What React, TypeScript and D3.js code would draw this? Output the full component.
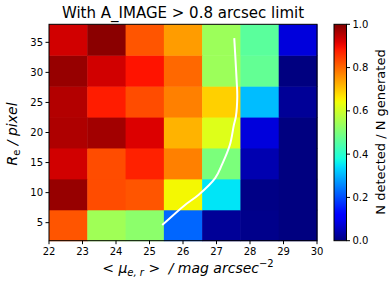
import * as d3 from "d3"

// bin edges of the 2D histogram
const xEdges = [22, 23.143, 24.286, 25.429, 26.571, 27.714, 28.857, 30]
const yEdges = [2, 7.143, 12.286, 17.429, 22.571, 27.714, 32.857, 38]

// detection fraction, rows from bottom (small Re) to top
const fraction = [
  [0.82, 0.545, 0.52, 0.225, 0.02, 0.01, 0.0],
  [0.98, 0.83, 0.82, 0.647, 0.35, 0.006, 0.0],
  [0.93, 0.83, 0.875, 0.775, 0.5, 0.042, 0.0],
  [0.96, 0.97, 0.92, 0.72, 0.62, 0.08, 0.0],
  [0.956, 0.88, 0.83, 0.775, 0.69, 0.31, 0.02],
  [0.98, 0.93, 0.89, 0.8, 0.54, 0.47, 0.0],
  [0.93, 0.99, 0.82, 0.745, 0.54, 0.46, 0.08],
]

// 50% completeness curve
const curveX = [25.38, 26.06, 26.46, 26.96, 27.16, 27.4, 27.52, 27.58, 27.62, 27.6, 27.53]
const curveY = [4.6, 7.95, 9.6, 12.4, 14.6, 17.95, 21.3, 22.7, 26.0, 28.8, 35.7]

const xTicks = [22, 23, 24, 25, 26, 27, 28, 29, 30]
const yTicks = [5, 10, 15, 20, 25, 30, 35]
const cbTicks = [0, 0.2, 0.4, 0.6, 0.8, 1.0]

// matplotlib jet segment data
const jetR: [number, number][] = [[0, 0], [0.35, 0], [0.66, 1], [0.89, 1], [1, 0.5]]
const jetG: [number, number][] = [[0, 0], [0.125, 0], [0.375, 1], [0.64, 1], [0.91, 0], [1, 0]]
const jetB: [number, number][] = [[0, 0.5], [0.11, 1], [0.34, 1], [0.65, 0], [1, 0]]

function seg(s: [number, number][], v: number) {
  for (let i = 1; i < s.length; i++) {
    if (v <= s[i][0]) {
      const t = (v - s[i - 1][0]) / (s[i][0] - s[i - 1][0])
      return s[i - 1][1] + t * (s[i][1] - s[i - 1][1])
    }
  }
  return s[s.length - 1][1]
}

function jet(v: number) {
  const c = Math.max(0, Math.min(1, v))
  return d3.rgb(seg(jetR, c) * 255, seg(jetG, c) * 255, seg(jetB, c) * 255).formatHex()
}

const W = 392
const H = 291
const font = "DejaVu Sans, sans-serif"

export default function App() {
  const x = d3.scaleLinear().domain([22, 30]).range([49, 317])
  const y = d3.scaleLinear().domain([2, 38]).range([240.7, 24.3])
  const cb = d3.scaleLinear().domain([0, 1]).range([240.7, 24.3])

  const line = d3.line<number>()
    .x(i => x(curveX[i]))
    .y(i => y(curveY[i]))
    .curve(d3.curveCatmullRom)

  const stops = d3.range(0, 1.0001, 0.02)

  return (
    <svg width={W} height={H} style={{ position: "absolute", left: 0, top: 0, background: "#fff" }}>
      <defs>
        <linearGradient id="jetgrad" x1="0" y1="1" x2="0" y2="0">
          {stops.map(s => (
            <stop key={s} offset={s} stopColor={jet(s)} />
          ))}
        </linearGradient>
      </defs>

      {fraction.map((row, j) =>
        row.map((v, i) => (
          <rect
            key={`${i}-${j}`}
            x={x(xEdges[i])}
            y={y(yEdges[j + 1])}
            width={x(xEdges[i + 1]) - x(xEdges[i]) + 0.5}
            height={y(yEdges[j]) - y(yEdges[j + 1]) + 0.5}
            fill={jet(v)}
          />
        ))
      )}

      <path d={line(d3.range(curveX.length)) ?? ""} fill="none" stroke="#fff" strokeWidth={2} />

      <rect x={49} y={24.3} width={268} height={216.4} fill="none" stroke="#000" strokeWidth={1} />

      {xTicks.map(t => (
        <g key={t} transform={`translate(${x(t)},240.7)`}>
          <line y2={3.5} stroke="#000" />
          <text y={14} textAnchor="middle" fontSize={10} fontFamily={font} fill="#000">{t}</text>
        </g>
      ))}
      {yTicks.map(t => (
        <g key={t} transform={`translate(49,${y(t)})`}>
          <line x2={-3.5} stroke="#000" />
          <text x={-6} dy="0.35em" textAnchor="end" fontSize={10} fontFamily={font} fill="#000">{t}</text>
        </g>
      ))}

      <text x={183} y={18} textAnchor="middle" fontSize={15} fontFamily={font} fill="#000">
        With A_IMAGE &gt; 0.8 arcsec limit
      </text>

      <text x={188} y={273} textAnchor="middle" fontSize={14} fontFamily={font} fill="#000">
        <tspan>&lt; </tspan>
        <tspan fontStyle="italic">μ</tspan>
        <tspan fontStyle="italic" fontSize={10} dy={3}>e, r</tspan>
        <tspan dy={-3}> &gt;  </tspan>
        <tspan fontStyle="italic" dx={4}>/ mag arcsec</tspan>
        <tspan fontSize={10} dy={-6}>−2</tspan>
      </text>

      <text transform="translate(17,134) rotate(-90)" textAnchor="middle" fontSize={14} fontFamily={font} fill="#000">
        <tspan fontStyle="italic">R</tspan>
        <tspan fontSize={10} dy={3}>e</tspan>
        <tspan fontStyle="italic" dy={-3}> / pixel</tspan>
      </text>

      <rect x={334} y={24.3} width={12.5} height={216.4} fill="url(#jetgrad)" stroke="#000" strokeWidth={1} />
      {cbTicks.map(t => (
        <g key={t} transform={`translate(346.5,${cb(t)})`}>
          <line x2={3.5} stroke="#000" />
          <text x={6} dy="0.35em" fontSize={10} fontFamily={font} fill="#000">{t.toFixed(1)}</text>
        </g>
      ))}
      <text transform="translate(385,132) rotate(-90)" textAnchor="middle" fontSize={13} fontFamily={font} fill="#000">
        N detected / N generated
      </text>
    </svg>
  )
}
